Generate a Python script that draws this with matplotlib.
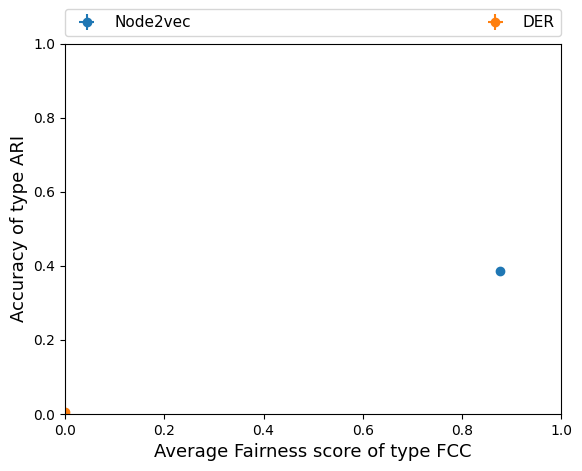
import matplotlib
matplotlib.use("Agg")
import matplotlib.pyplot as plt

methods = ["Node2vec", "DER"]
fairness = [0.877, 0.0]
accuracy = [0.385, 0.005]
fairness_err = [0.0, 0.0]
accuracy_err = [0.0, 0.0]

fig = plt.figure(figsize=(5.82, 4.71), dpi=100)
ax = fig.add_axes([0.112, 0.121, 0.852, 0.786])

for name, x, y, xe, ye in zip(methods, fairness, accuracy, fairness_err, accuracy_err):
  ax.errorbar(x, y, xerr=xe, yerr=ye, fmt="o", label=name)

ax.set_xlim(0, 1)
ax.set_ylim(0, 1)
ax.set_xlabel("Average Fairness score of type FCC", fontsize=13)
ax.set_ylabel("Accuracy of type ARI", fontsize=13)
ax.legend(bbox_to_anchor=(0, 1.02, 1, 0.102), loc="lower left", ncol=2,
          mode="expand", borderaxespad=0, fontsize=11)

fig.savefig("out.png", dpi=100)
